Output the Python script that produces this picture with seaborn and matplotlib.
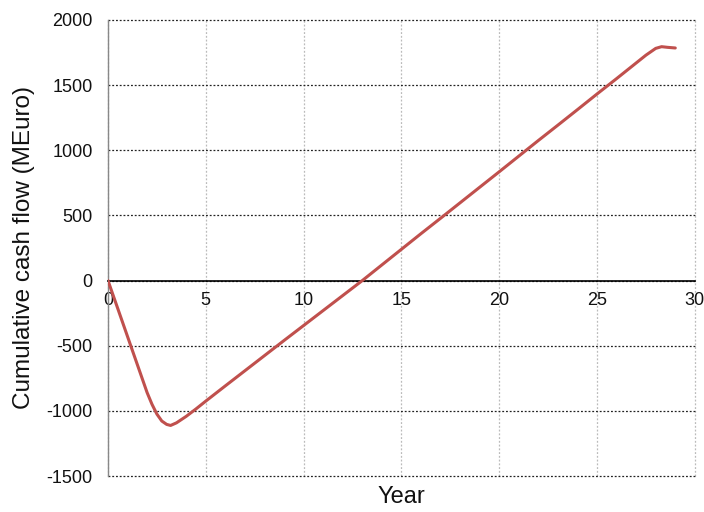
import matplotlib
matplotlib.use("Agg")
import matplotlib.pyplot as plt
import seaborn as sns
import pandas as pd

# Data
years = [0, 0.5, 1, 1.5, 2, 2.25, 2.5, 2.75, 3, 3.2, 3.5, 4, 4.5, 5, 6, 7, 8, 9, 10, 11, 12, 13,
         14, 15, 16, 17, 18, 19, 20, 21, 22, 23, 24, 25, 26, 27, 27.5, 28, 28.3, 28.6, 29]
cash_flow = [0, -215, -430, -645, -860, -950, -1025, -1078, -1104, -1112, -1092, -1042, -985,
             -925, -808, -692, -576, -460, -345, -230, -115, 0,
             120, 240, 360, 478, 597, 716, 835, 955, 1075, 1193, 1312, 1432, 1550,
             1670, 1730, 1782, 1795, 1790, 1785]
x_ticks = [0, 5, 10, 15, 20, 25, 30]
y_ticks = [-1500, -1000, -500, 0, 500, 1000, 1500, 2000]

sns.set_style("white")
plt.rcParams['font.family'] = ['Liberation Sans', 'DejaVu Sans']

df = pd.DataFrame({"Year": years, "Cash": cash_flow})

fig = plt.figure(figsize=(7.04, 5.12), dpi=100)
ax = fig.add_axes([0.1534, 0.0703, 0.987 - 0.1534, 0.961 - 0.0703])

sns.lineplot(data=df, x="Year", y="Cash", ax=ax, color="#C0504D", linewidth=2.2, zorder=5)

# spines (set position first: it resets tick properties)
ax.spines['top'].set_visible(False)
ax.spines['right'].set_visible(False)
ax.spines['left'].set_color("#888888")
ax.spines['left'].set_linewidth(1.0)
ax.spines['bottom'].set_position(('data', 0))
ax.spines['bottom'].set_color("black")
ax.spines['bottom'].set_linewidth(1.2)
ax.spines['bottom'].set_zorder(4)

ax.set_xlim(0, 30)
ax.set_ylim(-1500, 2000)
ax.set_xticks(x_ticks)
ax.set_yticks(y_ticks)
ax.set_xticklabels([str(t) for t in x_ticks], fontsize=13)
ax.set_yticklabels([str(t) for t in y_ticks], fontsize=13)

# grids
ax.yaxis.grid(True, color="#222222", linestyle=(0, (1.5, 1.5)), linewidth=0.9)
ax.xaxis.grid(True, color="#BBBBBB", linestyle=(0, (1.5, 1.5)), linewidth=0.9)
for gl in ax.get_xgridlines() + ax.get_ygridlines():
    gl.set_clip_on(False)
ax.set_axisbelow(True)

ax.tick_params(axis='both', length=0, colors="#111111")
ax.tick_params(axis='x', pad=8)
ax.tick_params(axis='y', pad=11)

ax.set_xlabel("")
ax.set_ylabel("Cumulative cash flow (MEuro)", fontsize=17.5, color="#111111", labelpad=8)
fig.text(0.5705, 0.008, "Year", ha="center", va="bottom", fontsize=17, color="#111111")

fig.savefig("out.png", dpi=100)
